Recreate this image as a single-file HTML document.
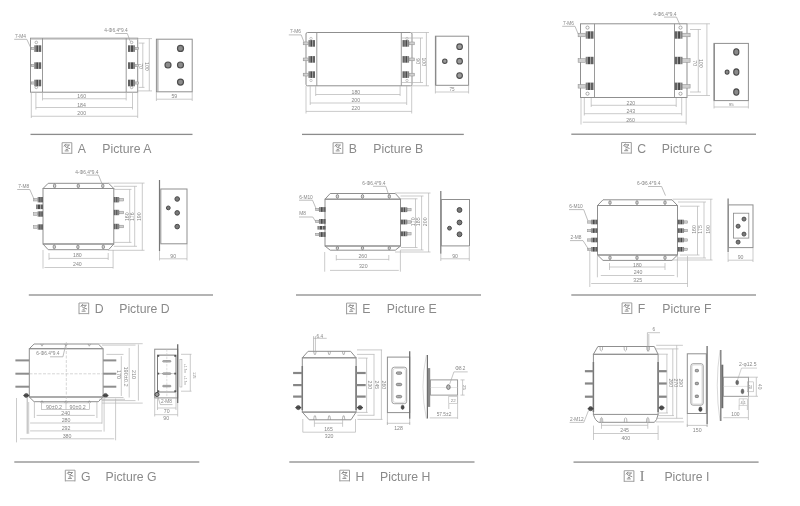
<!DOCTYPE html>
<html><head><meta charset="utf-8"><title>Filter dimension drawings</title>
<style>
html,body{margin:0;padding:0;background:#fff;}
body{width:800px;height:506px;overflow:hidden;}
svg{display:block;filter:blur(0.3px);}
text{font-family:"Liberation Sans",sans-serif;}
text.cap{font-size:13.2px;}
</style></head>
<body>
<svg width="800" height="506" viewBox="0 0 800 506">
<rect width="800" height="506" fill="#fff"/>
<rect x="30.5" y="38.2" width="107.2" height="54" stroke="#8f8f8f" stroke-width="1" fill="none"/>
<line x1="30.5" y1="39.2" x2="137.7" y2="39.2" stroke="#c4c4c4" stroke-width="1"/>
<line x1="42.5" y1="38.2" x2="42.5" y2="92.2" stroke="#8f8f8f" stroke-width="0.9"/>
<line x1="126.2" y1="38.2" x2="126.2" y2="92.2" stroke="#8f8f8f" stroke-width="0.9"/>
<rect x="38.68" y="45.3" width="2.52" height="6.6" fill="#626262"/>
<rect x="38.19" y="45.3" width="0.49" height="6.6" fill="#9a9a9a"/>
<rect x="36.16" y="45.3" width="2.03" height="6.6" fill="#4a4a4a"/>
<rect x="34.2" y="45.3" width="1.96" height="6.6" fill="#858585"/>
<rect x="31.2" y="47.5" width="3" height="2.2" stroke="#8a8a8a" stroke-width="0.5" fill="#cfcfcf"/>
<rect x="128" y="45.3" width="2.52" height="6.6" fill="#626262"/>
<rect x="130.52" y="45.3" width="0.49" height="6.6" fill="#9a9a9a"/>
<rect x="131.01" y="45.3" width="2.03" height="6.6" fill="#4a4a4a"/>
<rect x="133.04" y="45.3" width="1.96" height="6.6" fill="#858585"/>
<rect x="135" y="47.5" width="3.5" height="2.2" stroke="#8a8a8a" stroke-width="0.5" fill="#cfcfcf"/>
<rect x="38.68" y="62.3" width="2.52" height="6.6" fill="#626262"/>
<rect x="38.19" y="62.3" width="0.49" height="6.6" fill="#9a9a9a"/>
<rect x="36.16" y="62.3" width="2.03" height="6.6" fill="#4a4a4a"/>
<rect x="34.2" y="62.3" width="1.96" height="6.6" fill="#858585"/>
<rect x="31.2" y="64.5" width="3" height="2.2" stroke="#8a8a8a" stroke-width="0.5" fill="#cfcfcf"/>
<rect x="128" y="62.3" width="2.52" height="6.6" fill="#626262"/>
<rect x="130.52" y="62.3" width="0.49" height="6.6" fill="#9a9a9a"/>
<rect x="131.01" y="62.3" width="2.03" height="6.6" fill="#4a4a4a"/>
<rect x="133.04" y="62.3" width="1.96" height="6.6" fill="#858585"/>
<rect x="135" y="64.5" width="3.5" height="2.2" stroke="#8a8a8a" stroke-width="0.5" fill="#cfcfcf"/>
<rect x="38.68" y="79.7" width="2.52" height="6.6" fill="#626262"/>
<rect x="38.19" y="79.7" width="0.49" height="6.6" fill="#9a9a9a"/>
<rect x="36.16" y="79.7" width="2.03" height="6.6" fill="#4a4a4a"/>
<rect x="34.2" y="79.7" width="1.96" height="6.6" fill="#858585"/>
<rect x="31.2" y="81.9" width="3" height="2.2" stroke="#8a8a8a" stroke-width="0.5" fill="#cfcfcf"/>
<rect x="128" y="79.7" width="2.52" height="6.6" fill="#626262"/>
<rect x="130.52" y="79.7" width="0.49" height="6.6" fill="#9a9a9a"/>
<rect x="131.01" y="79.7" width="2.03" height="6.6" fill="#4a4a4a"/>
<rect x="133.04" y="79.7" width="1.96" height="6.6" fill="#858585"/>
<rect x="135" y="81.9" width="3.5" height="2.2" stroke="#8a8a8a" stroke-width="0.5" fill="#cfcfcf"/>
<circle cx="36.3" cy="42.4" r="1.3" fill="none" stroke="#888" stroke-width="0.6"/>
<circle cx="36.3" cy="87.4" r="1.3" fill="none" stroke="#888" stroke-width="0.6"/>
<circle cx="131.6" cy="42.4" r="1.3" fill="none" stroke="#888" stroke-width="0.6"/>
<circle cx="131.6" cy="87.4" r="1.3" fill="none" stroke="#888" stroke-width="0.6"/>
<text class="d" x="14.9" y="37.7" font-size="4.8" text-anchor="start" fill="#868686">7-M4</text>
<path d="M14.2 39.3 L26.8 39.3 L30.4 47" stroke="#a0a0a0" stroke-width="0.7" fill="none"/>
<text class="d" x="104.3" y="31.9" font-size="4.8" text-anchor="start" fill="#868686">4-Φ6.4*9.4</text>
<path d="M115.3 33.5 L127.3 33.5 L130.3 41.5" stroke="#a0a0a0" stroke-width="0.7" fill="none"/>
<line x1="137.7" y1="38.6" x2="152" y2="38.6" stroke="#b4b4b4" stroke-width="0.7"/>
<line x1="137.7" y1="90.9" x2="152" y2="90.9" stroke="#b4b4b4" stroke-width="0.7"/>
<line x1="149.3" y1="38.6" x2="149.3" y2="90.9" stroke="#b4b4b4" stroke-width="0.7"/>
<text class="d" x="145" y="66.4" font-size="5.2" text-anchor="middle" fill="#868686" transform="rotate(90 145 66.4)">100</text>
<line x1="138.7" y1="43.1" x2="144.5" y2="43.1" stroke="#b4b4b4" stroke-width="0.7"/>
<line x1="138.7" y1="87.4" x2="144.5" y2="87.4" stroke="#b4b4b4" stroke-width="0.7"/>
<line x1="142.8" y1="43.1" x2="142.8" y2="87.4" stroke="#b4b4b4" stroke-width="0.7"/>
<text class="d" x="139.1" y="66.1" font-size="5.2" text-anchor="middle" fill="#868686" transform="rotate(90 139.1 66.1)">70</text>
<rect x="156.4" y="39.2" width="35.8" height="52.6" stroke="#8f8f8f" stroke-width="1" fill="none"/>
<line x1="157.9" y1="39.2" x2="157.9" y2="91.8" stroke="#9a9a9a" stroke-width="1"/>
<circle cx="180.5" cy="48.4" r="3" fill="#8c8c8c" stroke="#4e4e4e" stroke-width="1.2"/>
<circle cx="168" cy="65" r="3" fill="#8c8c8c" stroke="#4e4e4e" stroke-width="1.2"/>
<circle cx="180.5" cy="65" r="3" fill="#8c8c8c" stroke="#4e4e4e" stroke-width="1.2"/>
<circle cx="180.5" cy="82.1" r="3" fill="#8c8c8c" stroke="#4e4e4e" stroke-width="1.2"/>
<line x1="156.4" y1="92" x2="156.4" y2="101" stroke="#b4b4b4" stroke-width="0.7"/>
<line x1="192.2" y1="92" x2="192.2" y2="101" stroke="#b4b4b4" stroke-width="0.7"/>
<line x1="156.4" y1="99.2" x2="192.2" y2="99.2" stroke="#b4b4b4" stroke-width="0.7"/>
<text class="d" x="174.3" y="98.3" font-size="5.2" text-anchor="middle" fill="#868686">59</text>
<line x1="42.5" y1="92.5" x2="42.5" y2="100.5" stroke="#b4b4b4" stroke-width="0.7"/>
<line x1="126.2" y1="92.5" x2="126.2" y2="100.5" stroke="#b4b4b4" stroke-width="0.7"/>
<line x1="42.5" y1="98.75" x2="126.2" y2="98.75" stroke="#b4b4b4" stroke-width="0.7"/>
<text class="d" x="81.7" y="97.85" font-size="5.2" text-anchor="middle" fill="#868686">160</text>
<line x1="35.9" y1="92.5" x2="35.9" y2="109.5" stroke="#b4b4b4" stroke-width="0.7"/>
<line x1="132.5" y1="92.5" x2="132.5" y2="109.5" stroke="#b4b4b4" stroke-width="0.7"/>
<line x1="35.9" y1="107.5" x2="132.5" y2="107.5" stroke="#b4b4b4" stroke-width="0.7"/>
<text class="d" x="81.5" y="106.6" font-size="5.2" text-anchor="middle" fill="#868686">184</text>
<line x1="31.3" y1="92.5" x2="31.3" y2="118" stroke="#b4b4b4" stroke-width="0.7"/>
<line x1="137.7" y1="92.5" x2="137.7" y2="118" stroke="#b4b4b4" stroke-width="0.7"/>
<line x1="31.3" y1="116.25" x2="137.7" y2="116.25" stroke="#b4b4b4" stroke-width="0.7"/>
<text class="d" x="81.7" y="115.35" font-size="5.2" text-anchor="middle" fill="#868686">200</text>
<rect x="306" y="32.5" width="106" height="53.3" stroke="#8f8f8f" stroke-width="1" fill="none" rx="1.5"/>
<line x1="316.8" y1="32.5" x2="316.8" y2="85.8" stroke="#8f8f8f" stroke-width="0.9"/>
<line x1="401.3" y1="32.5" x2="401.3" y2="85.8" stroke="#8f8f8f" stroke-width="0.9"/>
<rect x="312.62" y="40.1" width="2.38" height="6.6" fill="#626262"/>
<rect x="312.16" y="40.1" width="0.46" height="6.6" fill="#9a9a9a"/>
<rect x="310.25" y="40.1" width="1.91" height="6.6" fill="#4a4a4a"/>
<rect x="308.4" y="40.1" width="1.85" height="6.6" fill="#858585"/>
<rect x="303.2" y="42" width="5.2" height="2.8" stroke="#8a8a8a" stroke-width="0.5" fill="#cfcfcf"/>
<rect x="402.5" y="40.1" width="2.38" height="6.6" fill="#626262"/>
<rect x="404.88" y="40.1" width="0.46" height="6.6" fill="#9a9a9a"/>
<rect x="405.34" y="40.1" width="1.91" height="6.6" fill="#4a4a4a"/>
<rect x="407.25" y="40.1" width="1.85" height="6.6" fill="#858585"/>
<rect x="409.1" y="42" width="5.2" height="2.8" stroke="#8a8a8a" stroke-width="0.5" fill="#cfcfcf"/>
<rect x="312.62" y="56.1" width="2.38" height="6.6" fill="#626262"/>
<rect x="312.16" y="56.1" width="0.46" height="6.6" fill="#9a9a9a"/>
<rect x="310.25" y="56.1" width="1.91" height="6.6" fill="#4a4a4a"/>
<rect x="308.4" y="56.1" width="1.85" height="6.6" fill="#858585"/>
<rect x="303.2" y="58" width="5.2" height="2.8" stroke="#8a8a8a" stroke-width="0.5" fill="#cfcfcf"/>
<rect x="402.5" y="56.1" width="2.38" height="6.6" fill="#626262"/>
<rect x="404.88" y="56.1" width="0.46" height="6.6" fill="#9a9a9a"/>
<rect x="405.34" y="56.1" width="1.91" height="6.6" fill="#4a4a4a"/>
<rect x="407.25" y="56.1" width="1.85" height="6.6" fill="#858585"/>
<rect x="409.1" y="58" width="5.2" height="2.8" stroke="#8a8a8a" stroke-width="0.5" fill="#cfcfcf"/>
<rect x="312.62" y="71.3" width="2.38" height="6.6" fill="#626262"/>
<rect x="312.16" y="71.3" width="0.46" height="6.6" fill="#9a9a9a"/>
<rect x="310.25" y="71.3" width="1.91" height="6.6" fill="#4a4a4a"/>
<rect x="308.4" y="71.3" width="1.85" height="6.6" fill="#858585"/>
<rect x="303.2" y="73.2" width="5.2" height="2.8" stroke="#8a8a8a" stroke-width="0.5" fill="#cfcfcf"/>
<rect x="402.5" y="71.3" width="2.38" height="6.6" fill="#626262"/>
<rect x="404.88" y="71.3" width="0.46" height="6.6" fill="#9a9a9a"/>
<rect x="405.34" y="71.3" width="1.91" height="6.6" fill="#4a4a4a"/>
<rect x="407.25" y="71.3" width="1.85" height="6.6" fill="#858585"/>
<rect x="409.1" y="73.2" width="5.2" height="2.8" stroke="#8a8a8a" stroke-width="0.5" fill="#cfcfcf"/>
<circle cx="311" cy="38.5" r="1.2" fill="none" stroke="#999" stroke-width="0.5"/>
<circle cx="311" cy="80.5" r="1.2" fill="none" stroke="#999" stroke-width="0.5"/>
<circle cx="407" cy="38.5" r="1.2" fill="none" stroke="#999" stroke-width="0.5"/>
<circle cx="407" cy="80.5" r="1.2" fill="none" stroke="#999" stroke-width="0.5"/>
<text class="d" x="289.9" y="33.3" font-size="4.8" text-anchor="start" fill="#868686">7-M6</text>
<path d="M288.8 34.9 L301.2 34.9 L304 42" stroke="#a0a0a0" stroke-width="0.7" fill="none"/>
<line x1="412" y1="32.5" x2="429" y2="32.5" stroke="#b4b4b4" stroke-width="0.7"/>
<line x1="412" y1="85.8" x2="429" y2="85.8" stroke="#b4b4b4" stroke-width="0.7"/>
<line x1="426.4" y1="32.5" x2="426.4" y2="85.8" stroke="#b4b4b4" stroke-width="0.7"/>
<text class="d" x="422" y="61.8" font-size="5.2" text-anchor="middle" fill="#868686" transform="rotate(90 422 61.8)">100</text>
<line x1="402" y1="38" x2="423" y2="38" stroke="#b4b4b4" stroke-width="0.7"/>
<line x1="402" y1="82.5" x2="423" y2="82.5" stroke="#b4b4b4" stroke-width="0.7"/>
<line x1="420.5" y1="38" x2="420.5" y2="82.5" stroke="#b4b4b4" stroke-width="0.7"/>
<text class="d" x="416.1" y="61.2" font-size="5.2" text-anchor="middle" fill="#868686" transform="rotate(90 416.1 61.2)">90</text>
<rect x="435.4" y="36.2" width="33.2" height="49.1" stroke="#8f8f8f" stroke-width="1" fill="none"/>
<line x1="435.7" y1="36.2" x2="435.7" y2="85.3" stroke="#8a8a8a" stroke-width="1.3"/>
<circle cx="459.6" cy="46.7" r="2.8" fill="#9a9a9a" stroke="#4e4e4e" stroke-width="1.1"/>
<circle cx="444.8" cy="61.2" r="2.2" fill="#9a9a9a" stroke="#4e4e4e" stroke-width="1.1"/>
<circle cx="459.6" cy="61.2" r="2.8" fill="#9a9a9a" stroke="#4e4e4e" stroke-width="1.1"/>
<circle cx="459.6" cy="75.6" r="2.8" fill="#9a9a9a" stroke="#4e4e4e" stroke-width="1.1"/>
<line x1="435.4" y1="85.5" x2="435.4" y2="93.5" stroke="#b4b4b4" stroke-width="0.7"/>
<line x1="468.6" y1="85.5" x2="468.6" y2="93.5" stroke="#b4b4b4" stroke-width="0.7"/>
<line x1="435.4" y1="92" x2="468.6" y2="92" stroke="#b4b4b4" stroke-width="0.7"/>
<text class="d" x="452" y="91.1" font-size="4.6" text-anchor="middle" fill="#868686">75</text>
<line x1="315.7" y1="86" x2="315.7" y2="96" stroke="#b4b4b4" stroke-width="0.7"/>
<line x1="400.1" y1="86" x2="400.1" y2="96" stroke="#b4b4b4" stroke-width="0.7"/>
<line x1="315.7" y1="94.5" x2="400.1" y2="94.5" stroke="#b4b4b4" stroke-width="0.7"/>
<text class="d" x="355.9" y="93.8" font-size="5.2" text-anchor="middle" fill="#868686">180</text>
<line x1="310.2" y1="86" x2="310.2" y2="105" stroke="#b4b4b4" stroke-width="0.7"/>
<line x1="406.7" y1="86" x2="406.7" y2="105" stroke="#b4b4b4" stroke-width="0.7"/>
<line x1="310.2" y1="103" x2="406.7" y2="103" stroke="#b4b4b4" stroke-width="0.7"/>
<text class="d" x="355.8" y="101.9" font-size="5.2" text-anchor="middle" fill="#868686">200</text>
<line x1="306" y1="86" x2="306" y2="113.5" stroke="#b4b4b4" stroke-width="0.7"/>
<line x1="411.7" y1="86" x2="411.7" y2="113.5" stroke="#b4b4b4" stroke-width="0.7"/>
<line x1="306" y1="111.4" x2="411.7" y2="111.4" stroke="#b4b4b4" stroke-width="0.7"/>
<text class="d" x="355.8" y="110" font-size="5.2" text-anchor="middle" fill="#868686">220</text>
<rect x="580.5" y="23.8" width="106.5" height="73.7" stroke="#8f8f8f" stroke-width="1" fill="none"/>
<line x1="594.5" y1="23.8" x2="594.5" y2="97.5" stroke="#8f8f8f" stroke-width="0.9"/>
<line x1="674.5" y1="23.8" x2="674.5" y2="97.5" stroke="#8f8f8f" stroke-width="0.9"/>
<circle cx="587.5" cy="27.6" r="1.6" fill="none" stroke="#777" stroke-width="0.6"/>
<circle cx="587.5" cy="93.7" r="1.6" fill="none" stroke="#777" stroke-width="0.6"/>
<circle cx="680.5" cy="27.6" r="1.6" fill="none" stroke="#777" stroke-width="0.6"/>
<circle cx="680.5" cy="93.7" r="1.6" fill="none" stroke="#777" stroke-width="0.6"/>
<rect x="590.69" y="31.3" width="2.81" height="7.4" fill="#626262"/>
<rect x="590.15" y="31.3" width="0.55" height="7.4" fill="#9a9a9a"/>
<rect x="587.88" y="31.3" width="2.26" height="7.4" fill="#4a4a4a"/>
<rect x="585.7" y="31.3" width="2.18" height="7.4" fill="#858585"/>
<rect x="578.1" y="33.2" width="7.6" height="3.6" stroke="#8a8a8a" stroke-width="0.5" fill="#cfcfcf"/>
<rect x="674.7" y="31.3" width="2.81" height="7.4" fill="#626262"/>
<rect x="677.51" y="31.3" width="0.55" height="7.4" fill="#9a9a9a"/>
<rect x="678.05" y="31.3" width="2.26" height="7.4" fill="#4a4a4a"/>
<rect x="680.32" y="31.3" width="2.18" height="7.4" fill="#858585"/>
<rect x="682.5" y="33.2" width="7.6" height="3.6" stroke="#8a8a8a" stroke-width="0.5" fill="#cfcfcf"/>
<rect x="590.69" y="56.8" width="2.81" height="7.4" fill="#626262"/>
<rect x="590.15" y="56.8" width="0.55" height="7.4" fill="#9a9a9a"/>
<rect x="587.88" y="56.8" width="2.26" height="7.4" fill="#4a4a4a"/>
<rect x="585.7" y="56.8" width="2.18" height="7.4" fill="#858585"/>
<rect x="578.1" y="58.7" width="7.6" height="3.6" stroke="#8a8a8a" stroke-width="0.5" fill="#cfcfcf"/>
<rect x="674.7" y="56.8" width="2.81" height="7.4" fill="#626262"/>
<rect x="677.51" y="56.8" width="0.55" height="7.4" fill="#9a9a9a"/>
<rect x="678.05" y="56.8" width="2.26" height="7.4" fill="#4a4a4a"/>
<rect x="680.32" y="56.8" width="2.18" height="7.4" fill="#858585"/>
<rect x="682.5" y="58.7" width="7.6" height="3.6" stroke="#8a8a8a" stroke-width="0.5" fill="#cfcfcf"/>
<rect x="590.69" y="82.6" width="2.81" height="7.4" fill="#626262"/>
<rect x="590.15" y="82.6" width="0.55" height="7.4" fill="#9a9a9a"/>
<rect x="587.88" y="82.6" width="2.26" height="7.4" fill="#4a4a4a"/>
<rect x="585.7" y="82.6" width="2.18" height="7.4" fill="#858585"/>
<rect x="578.1" y="84.5" width="7.6" height="3.6" stroke="#8a8a8a" stroke-width="0.5" fill="#cfcfcf"/>
<rect x="674.7" y="82.6" width="2.81" height="7.4" fill="#626262"/>
<rect x="677.51" y="82.6" width="0.55" height="7.4" fill="#9a9a9a"/>
<rect x="678.05" y="82.6" width="2.26" height="7.4" fill="#4a4a4a"/>
<rect x="680.32" y="82.6" width="2.18" height="7.4" fill="#858585"/>
<rect x="682.5" y="84.5" width="7.6" height="3.6" stroke="#8a8a8a" stroke-width="0.5" fill="#cfcfcf"/>
<text class="d" x="563.1" y="24.7" font-size="4.8" text-anchor="start" fill="#868686">7-M6</text>
<path d="M562.2 26.3 L575 26.3 L578.2 34" stroke="#a0a0a0" stroke-width="0.7" fill="none"/>
<text class="d" x="653.2" y="15.5" font-size="4.8" text-anchor="start" fill="#868686">4-Φ6.4*9.4</text>
<path d="M664 17.1 L676.5 17.1 L680 25" stroke="#a0a0a0" stroke-width="0.7" fill="none"/>
<line x1="687" y1="23.8" x2="710" y2="23.8" stroke="#b4b4b4" stroke-width="0.7"/>
<line x1="687" y1="95.5" x2="710" y2="95.5" stroke="#b4b4b4" stroke-width="0.7"/>
<line x1="706.9" y1="23.8" x2="706.9" y2="95.5" stroke="#b4b4b4" stroke-width="0.7"/>
<text class="d" x="699.4" y="63.3" font-size="5.2" text-anchor="middle" fill="#868686" transform="rotate(90 699.4 63.3)">100</text>
<line x1="690" y1="29.5" x2="701" y2="29.5" stroke="#b4b4b4" stroke-width="0.7"/>
<line x1="690" y1="92" x2="701" y2="92" stroke="#b4b4b4" stroke-width="0.7"/>
<line x1="698.3" y1="29.5" x2="698.3" y2="92" stroke="#b4b4b4" stroke-width="0.7"/>
<text class="d" x="692.8" y="63.2" font-size="5.2" text-anchor="middle" fill="#868686" transform="rotate(90 692.8 63.2)">70</text>
<rect x="714" y="43.4" width="34.4" height="57.2" stroke="#8f8f8f" stroke-width="1" fill="none"/>
<line x1="714.3" y1="43.4" x2="714.3" y2="100.6" stroke="#8a8a8a" stroke-width="1.2"/>
<ellipse cx="736.3" cy="51.9" rx="2.6" ry="3.2" fill="#8a8a8a" stroke="#4a4a4a" stroke-width="1.1"/>
<ellipse cx="727.1" cy="72.1" rx="1.9" ry="2.1" fill="#8a8a8a" stroke="#4a4a4a" stroke-width="1.1"/>
<ellipse cx="736.3" cy="72.1" rx="2.6" ry="3.2" fill="#8a8a8a" stroke="#4a4a4a" stroke-width="1.1"/>
<ellipse cx="736.3" cy="92.1" rx="2.6" ry="3.2" fill="#8a8a8a" stroke="#4a4a4a" stroke-width="1.1"/>
<line x1="714" y1="101" x2="714" y2="108.5" stroke="#b4b4b4" stroke-width="0.7"/>
<line x1="748.4" y1="101" x2="748.4" y2="108.5" stroke="#b4b4b4" stroke-width="0.7"/>
<line x1="714" y1="107" x2="748.4" y2="107" stroke="#b4b4b4" stroke-width="0.7"/>
<text class="d" x="731.2" y="105.6" font-size="4.4" text-anchor="middle" fill="#868686">95</text>
<line x1="591.2" y1="98" x2="591.2" y2="107" stroke="#b4b4b4" stroke-width="0.7"/>
<line x1="676.2" y1="98" x2="676.2" y2="107" stroke="#b4b4b4" stroke-width="0.7"/>
<line x1="591.2" y1="105.3" x2="676.2" y2="105.3" stroke="#b4b4b4" stroke-width="0.7"/>
<text class="d" x="630.9" y="104.8" font-size="5.2" text-anchor="middle" fill="#868686">220</text>
<line x1="584.3" y1="98" x2="584.3" y2="115.5" stroke="#b4b4b4" stroke-width="0.7"/>
<line x1="681.7" y1="98" x2="681.7" y2="115.5" stroke="#b4b4b4" stroke-width="0.7"/>
<line x1="584.3" y1="113.7" x2="681.7" y2="113.7" stroke="#b4b4b4" stroke-width="0.7"/>
<text class="d" x="630.8" y="113.2" font-size="5.2" text-anchor="middle" fill="#868686">243</text>
<line x1="581" y1="98" x2="581" y2="124.5" stroke="#b4b4b4" stroke-width="0.7"/>
<line x1="686.2" y1="98" x2="686.2" y2="124.5" stroke="#b4b4b4" stroke-width="0.7"/>
<line x1="582.8" y1="122.2" x2="686.2" y2="122.2" stroke="#b4b4b4" stroke-width="0.7"/>
<text class="d" x="630.5" y="121.7" font-size="5.2" text-anchor="middle" fill="#868686">260</text>
<path d="M48.2 183.3 L108.6 183.3 L113.8 188.5 L43 188.5 Z" stroke="#8f8f8f" stroke-width="1" fill="none"/>
<rect x="43" y="188.5" width="70.8" height="55.5" stroke="#8f8f8f" stroke-width="1" fill="none"/>
<path d="M43 244 L113.8 244 L108.6 249.7 L48.2 249.7 Z" stroke="#8f8f8f" stroke-width="1" fill="none"/>
<ellipse cx="54.6" cy="185.9" rx="1.2" ry="1.9" fill="#d4d4d4" stroke="#6e6e6e" stroke-width="0.7"/>
<ellipse cx="78.3" cy="185.9" rx="1.2" ry="1.9" fill="#d4d4d4" stroke="#6e6e6e" stroke-width="0.7"/>
<ellipse cx="102.8" cy="185.9" rx="1.2" ry="1.9" fill="#d4d4d4" stroke="#6e6e6e" stroke-width="0.7"/>
<ellipse cx="54.3" cy="246.9" rx="1.2" ry="1.9" fill="#d4d4d4" stroke="#6e6e6e" stroke-width="0.7"/>
<ellipse cx="77.9" cy="246.9" rx="1.2" ry="1.9" fill="#d4d4d4" stroke="#6e6e6e" stroke-width="0.7"/>
<ellipse cx="103.3" cy="246.9" rx="1.2" ry="1.9" fill="#d4d4d4" stroke="#6e6e6e" stroke-width="0.7"/>
<rect x="41.06" y="197" width="1.94" height="5.4" fill="#626262"/>
<rect x="40.68" y="197" width="0.38" height="5.4" fill="#9a9a9a"/>
<rect x="39.11" y="197" width="1.57" height="5.4" fill="#4a4a4a"/>
<rect x="37.6" y="197" width="1.51" height="5.4" fill="#858585"/>
<rect x="33.4" y="198.4" width="4.2" height="2.6" stroke="#8a8a8a" stroke-width="0.5" fill="#cfcfcf"/>
<rect x="41.06" y="211.3" width="1.94" height="5.4" fill="#626262"/>
<rect x="40.68" y="211.3" width="0.38" height="5.4" fill="#9a9a9a"/>
<rect x="39.11" y="211.3" width="1.57" height="5.4" fill="#4a4a4a"/>
<rect x="37.6" y="211.3" width="1.51" height="5.4" fill="#858585"/>
<rect x="33.4" y="212.7" width="4.2" height="2.6" stroke="#8a8a8a" stroke-width="0.5" fill="#cfcfcf"/>
<rect x="41.06" y="224.3" width="1.94" height="5.4" fill="#626262"/>
<rect x="40.68" y="224.3" width="0.38" height="5.4" fill="#9a9a9a"/>
<rect x="39.11" y="224.3" width="1.57" height="5.4" fill="#4a4a4a"/>
<rect x="37.6" y="224.3" width="1.51" height="5.4" fill="#858585"/>
<rect x="33.4" y="225.7" width="4.2" height="2.6" stroke="#8a8a8a" stroke-width="0.5" fill="#cfcfcf"/>
<rect x="40.48" y="204.5" width="2.52" height="4.6" fill="#626262"/>
<rect x="39.99" y="204.5" width="0.49" height="4.6" fill="#9a9a9a"/>
<rect x="37.96" y="204.5" width="2.03" height="4.6" fill="#4a4a4a"/>
<rect x="36" y="204.5" width="1.96" height="4.6" fill="#858585"/>
<rect x="113.8" y="197" width="1.94" height="5.4" fill="#626262"/>
<rect x="115.74" y="197" width="0.38" height="5.4" fill="#9a9a9a"/>
<rect x="116.12" y="197" width="1.57" height="5.4" fill="#4a4a4a"/>
<rect x="117.69" y="197" width="1.51" height="5.4" fill="#858585"/>
<rect x="119.2" y="198.4" width="4.5" height="2.6" stroke="#8a8a8a" stroke-width="0.5" fill="#cfcfcf"/>
<rect x="113.8" y="209.8" width="1.94" height="5.4" fill="#626262"/>
<rect x="115.74" y="209.8" width="0.38" height="5.4" fill="#9a9a9a"/>
<rect x="116.12" y="209.8" width="1.57" height="5.4" fill="#4a4a4a"/>
<rect x="117.69" y="209.8" width="1.51" height="5.4" fill="#858585"/>
<rect x="119.2" y="211.2" width="4.5" height="2.6" stroke="#8a8a8a" stroke-width="0.5" fill="#cfcfcf"/>
<rect x="113.8" y="223.8" width="1.94" height="5.4" fill="#626262"/>
<rect x="115.74" y="223.8" width="0.38" height="5.4" fill="#9a9a9a"/>
<rect x="116.12" y="223.8" width="1.57" height="5.4" fill="#4a4a4a"/>
<rect x="117.69" y="223.8" width="1.51" height="5.4" fill="#858585"/>
<rect x="119.2" y="225.2" width="4.5" height="2.6" stroke="#8a8a8a" stroke-width="0.5" fill="#cfcfcf"/>
<text class="d" x="18.2" y="187.9" font-size="4.8" text-anchor="start" fill="#868686">7-M8</text>
<path d="M17.2 189.5 L29.8 189.5 L34.3 199.8" stroke="#a0a0a0" stroke-width="0.7" fill="none"/>
<text class="d" x="75.2" y="173.5" font-size="4.8" text-anchor="start" fill="#868686">4-Φ6.4*9.4</text>
<path d="M86.2 175.1 L98.5 175.1 L101.8 183.3" stroke="#a0a0a0" stroke-width="0.7" fill="none"/>
<line x1="108" y1="183.1" x2="144.5" y2="183.1" stroke="#b4b4b4" stroke-width="0.7"/>
<line x1="108" y1="250.3" x2="144.5" y2="250.3" stroke="#b4b4b4" stroke-width="0.7"/>
<line x1="142.3" y1="183.1" x2="142.3" y2="250.3" stroke="#b4b4b4" stroke-width="0.7"/>
<text class="d" x="140.6" y="216.7" font-size="5.2" text-anchor="middle" fill="#868686" transform="rotate(-90 140.6 216.7)">190</text>
<line x1="113.8" y1="186.3" x2="137" y2="186.3" stroke="#b4b4b4" stroke-width="0.7"/>
<line x1="113.8" y1="246.3" x2="137" y2="246.3" stroke="#b4b4b4" stroke-width="0.7"/>
<line x1="134.7" y1="186.3" x2="134.7" y2="246.3" stroke="#b4b4b4" stroke-width="0.7"/>
<text class="d" x="134.3" y="216.7" font-size="5.2" text-anchor="middle" fill="#868686" transform="rotate(-90 134.3 216.7)">176</text>
<line x1="114" y1="189.4" x2="131.5" y2="189.4" stroke="#b4b4b4" stroke-width="0.7"/>
<line x1="114" y1="242.4" x2="131.5" y2="242.4" stroke="#b4b4b4" stroke-width="0.7"/>
<line x1="129.7" y1="189.4" x2="129.7" y2="242.4" stroke="#b4b4b4" stroke-width="0.7"/>
<text class="d" x="129.1" y="216.7" font-size="5.2" text-anchor="middle" fill="#868686" transform="rotate(-90 129.1 216.7)">160</text>
<line x1="159.5" y1="180" x2="159.5" y2="251" stroke="#777" stroke-width="1.2"/>
<rect x="160.8" y="189" width="26.2" height="54.8" stroke="#8f8f8f" stroke-width="1" fill="none"/>
<circle cx="177.2" cy="199" r="2.3" fill="#7a7a7a" stroke="#484848" stroke-width="1.0"/>
<circle cx="168.3" cy="207.9" r="1.9" fill="#7a7a7a" stroke="#484848" stroke-width="1.0"/>
<circle cx="177.2" cy="212.9" r="2.3" fill="#7a7a7a" stroke="#484848" stroke-width="1.0"/>
<circle cx="177.2" cy="226.6" r="2.3" fill="#7a7a7a" stroke="#484848" stroke-width="1.0"/>
<line x1="159.5" y1="251" x2="159.5" y2="260.5" stroke="#b4b4b4" stroke-width="0.7"/>
<line x1="187" y1="244" x2="187" y2="260.5" stroke="#b4b4b4" stroke-width="0.7"/>
<line x1="159.5" y1="258.8" x2="187" y2="258.8" stroke="#b4b4b4" stroke-width="0.7"/>
<text class="d" x="173.25" y="257.9" font-size="5.2" text-anchor="middle" fill="#868686">90</text>
<line x1="49" y1="253" x2="49" y2="260" stroke="#b4b4b4" stroke-width="0.7"/>
<line x1="108.2" y1="253" x2="108.2" y2="260" stroke="#b4b4b4" stroke-width="0.7"/>
<line x1="49" y1="258.4" x2="108.2" y2="258.4" stroke="#b4b4b4" stroke-width="0.7"/>
<text class="d" x="77.4" y="257.4" font-size="5.2" text-anchor="middle" fill="#868686">180</text>
<line x1="43" y1="250" x2="43" y2="268.6" stroke="#b4b4b4" stroke-width="0.7"/>
<line x1="113.1" y1="250" x2="113.1" y2="268.6" stroke="#b4b4b4" stroke-width="0.7"/>
<line x1="44.5" y1="267.5" x2="113.1" y2="267.5" stroke="#b4b4b4" stroke-width="0.7"/>
<text class="d" x="77.4" y="265.8" font-size="5.2" text-anchor="middle" fill="#868686">240</text>
<path d="M330.2 193.5 L395.3 193.5 L400.5 199.2 L325 199.2 Z" stroke="#8f8f8f" stroke-width="1" fill="none"/>
<rect x="325" y="199.2" width="75.5" height="46.8" stroke="#8f8f8f" stroke-width="1" fill="none"/>
<path d="M325 246 L400.5 246 L395.3 250.2 L330.2 250.2 Z" stroke="#8f8f8f" stroke-width="1" fill="none"/>
<ellipse cx="337.4" cy="196.4" rx="1.2" ry="1.9" fill="#d4d4d4" stroke="#6e6e6e" stroke-width="0.7"/>
<ellipse cx="337.4" cy="248.1" rx="1.2" ry="1.6" fill="#d4d4d4" stroke="#6e6e6e" stroke-width="0.7"/>
<ellipse cx="362.5" cy="196.4" rx="1.2" ry="1.9" fill="#d4d4d4" stroke="#6e6e6e" stroke-width="0.7"/>
<ellipse cx="362.5" cy="248.1" rx="1.2" ry="1.6" fill="#d4d4d4" stroke="#6e6e6e" stroke-width="0.7"/>
<ellipse cx="389.3" cy="196.4" rx="1.2" ry="1.9" fill="#d4d4d4" stroke="#6e6e6e" stroke-width="0.7"/>
<ellipse cx="389.3" cy="248.1" rx="1.2" ry="1.6" fill="#d4d4d4" stroke="#6e6e6e" stroke-width="0.7"/>
<rect x="323.22" y="207.1" width="2.38" height="4.8" fill="#626262"/>
<rect x="322.76" y="207.1" width="0.46" height="4.8" fill="#9a9a9a"/>
<rect x="320.85" y="207.1" width="1.91" height="4.8" fill="#4a4a4a"/>
<rect x="319" y="207.1" width="1.85" height="4.8" fill="#858585"/>
<rect x="315.6" y="208.3" width="3.4" height="2.4" stroke="#8a8a8a" stroke-width="0.5" fill="#cfcfcf"/>
<rect x="323.22" y="219" width="2.38" height="4.8" fill="#626262"/>
<rect x="322.76" y="219" width="0.46" height="4.8" fill="#9a9a9a"/>
<rect x="320.85" y="219" width="1.91" height="4.8" fill="#4a4a4a"/>
<rect x="319" y="219" width="1.85" height="4.8" fill="#858585"/>
<rect x="315.6" y="220.2" width="3.4" height="2.4" stroke="#8a8a8a" stroke-width="0.5" fill="#cfcfcf"/>
<rect x="323.22" y="232.1" width="2.38" height="4.8" fill="#626262"/>
<rect x="322.76" y="232.1" width="0.46" height="4.8" fill="#9a9a9a"/>
<rect x="320.85" y="232.1" width="1.91" height="4.8" fill="#4a4a4a"/>
<rect x="319" y="232.1" width="1.85" height="4.8" fill="#858585"/>
<rect x="315.6" y="233.3" width="3.4" height="2.4" stroke="#8a8a8a" stroke-width="0.5" fill="#cfcfcf"/>
<rect x="322.65" y="226" width="2.95" height="3.6" fill="#626262"/>
<rect x="322.07" y="226" width="0.57" height="3.6" fill="#9a9a9a"/>
<rect x="319.7" y="226" width="2.38" height="3.6" fill="#4a4a4a"/>
<rect x="317.4" y="226" width="2.3" height="3.6" fill="#858585"/>
<rect x="400.7" y="207.3" width="2.38" height="4.8" fill="#626262"/>
<rect x="403.08" y="207.3" width="0.46" height="4.8" fill="#9a9a9a"/>
<rect x="403.54" y="207.3" width="1.91" height="4.8" fill="#4a4a4a"/>
<rect x="405.45" y="207.3" width="1.85" height="4.8" fill="#858585"/>
<rect x="407.3" y="208.5" width="3.8" height="2.4" stroke="#8a8a8a" stroke-width="0.5" fill="#cfcfcf"/>
<rect x="400.7" y="219.6" width="2.38" height="4.8" fill="#626262"/>
<rect x="403.08" y="219.6" width="0.46" height="4.8" fill="#9a9a9a"/>
<rect x="403.54" y="219.6" width="1.91" height="4.8" fill="#4a4a4a"/>
<rect x="405.45" y="219.6" width="1.85" height="4.8" fill="#858585"/>
<rect x="407.3" y="220.8" width="3.8" height="2.4" stroke="#8a8a8a" stroke-width="0.5" fill="#cfcfcf"/>
<rect x="400.7" y="231.4" width="2.38" height="4.8" fill="#626262"/>
<rect x="403.08" y="231.4" width="0.46" height="4.8" fill="#9a9a9a"/>
<rect x="403.54" y="231.4" width="1.91" height="4.8" fill="#4a4a4a"/>
<rect x="405.45" y="231.4" width="1.85" height="4.8" fill="#858585"/>
<rect x="407.3" y="232.6" width="3.8" height="2.4" stroke="#8a8a8a" stroke-width="0.5" fill="#cfcfcf"/>
<text class="d" x="362.2" y="184.7" font-size="4.8" text-anchor="start" fill="#868686">6-Φ6.4*9.4</text>
<path d="M373 186.3 L385.8 186.3 L389 195.8" stroke="#a0a0a0" stroke-width="0.7" fill="none"/>
<text class="d" x="299.2" y="198.6" font-size="4.8" text-anchor="start" fill="#868686">6-M10</text>
<path d="M299 200.2 L312.5 200.2 L316 208.4" stroke="#a0a0a0" stroke-width="0.7" fill="none"/>
<text class="d" x="299.2" y="215.4" font-size="4.8" text-anchor="start" fill="#868686">M8</text>
<path d="M299 217 L312.8 217 L315.5 221.4" stroke="#a0a0a0" stroke-width="0.7" fill="none"/>
<line x1="395" y1="193" x2="430.5" y2="193" stroke="#b4b4b4" stroke-width="0.7"/>
<line x1="395" y1="252" x2="430.5" y2="252" stroke="#b4b4b4" stroke-width="0.7"/>
<line x1="428.6" y1="193" x2="428.6" y2="252" stroke="#b4b4b4" stroke-width="0.7"/>
<text class="d" x="426.7" y="221.8" font-size="5.2" text-anchor="middle" fill="#868686" transform="rotate(-90 426.7 221.8)">200</text>
<line x1="400.5" y1="196" x2="423.5" y2="196" stroke="#b4b4b4" stroke-width="0.7"/>
<line x1="400.5" y1="250" x2="423.5" y2="250" stroke="#b4b4b4" stroke-width="0.7"/>
<line x1="421.6" y1="196" x2="421.6" y2="250" stroke="#b4b4b4" stroke-width="0.7"/>
<text class="d" x="420.3" y="221.8" font-size="5.2" text-anchor="middle" fill="#868686" transform="rotate(-90 420.3 221.8)">185</text>
<line x1="401" y1="198.8" x2="417.5" y2="198.8" stroke="#b4b4b4" stroke-width="0.7"/>
<line x1="401" y1="247.5" x2="417.5" y2="247.5" stroke="#b4b4b4" stroke-width="0.7"/>
<line x1="415.5" y1="198.8" x2="415.5" y2="247.5" stroke="#b4b4b4" stroke-width="0.7"/>
<text class="d" x="415.4" y="221.8" font-size="5.2" text-anchor="middle" fill="#868686" transform="rotate(-90 415.4 221.8)">170</text>
<line x1="440.8" y1="191" x2="440.8" y2="253.8" stroke="#777" stroke-width="1.2"/>
<rect x="441.3" y="199.5" width="28.2" height="46.4" stroke="#8f8f8f" stroke-width="1" fill="none"/>
<circle cx="459.5" cy="210" r="2.4" fill="#7a7a7a" stroke="#484848" stroke-width="1.0"/>
<circle cx="449.5" cy="228.2" r="1.9" fill="#7a7a7a" stroke="#484848" stroke-width="1.0"/>
<circle cx="459.5" cy="222.5" r="2.4" fill="#7a7a7a" stroke="#484848" stroke-width="1.0"/>
<circle cx="459.5" cy="234.3" r="2.4" fill="#7a7a7a" stroke="#484848" stroke-width="1.0"/>
<line x1="440.8" y1="254" x2="440.8" y2="261" stroke="#b4b4b4" stroke-width="0.7"/>
<line x1="469.3" y1="247" x2="469.3" y2="261" stroke="#b4b4b4" stroke-width="0.7"/>
<line x1="440.8" y1="258.8" x2="469.3" y2="258.8" stroke="#b4b4b4" stroke-width="0.7"/>
<text class="d" x="455.05" y="257.9" font-size="5.2" text-anchor="middle" fill="#868686">90</text>
<line x1="336.3" y1="255" x2="336.3" y2="260.5" stroke="#b4b4b4" stroke-width="0.7"/>
<line x1="388.8" y1="255" x2="388.8" y2="260.5" stroke="#b4b4b4" stroke-width="0.7"/>
<line x1="336.3" y1="259.4" x2="388.8" y2="259.4" stroke="#b4b4b4" stroke-width="0.7"/>
<text class="d" x="362.8" y="257.7" font-size="5.2" text-anchor="middle" fill="#868686">260</text>
<line x1="324.7" y1="252" x2="324.7" y2="271.7" stroke="#b4b4b4" stroke-width="0.7"/>
<line x1="400.4" y1="250" x2="400.4" y2="271.7" stroke="#b4b4b4" stroke-width="0.7"/>
<line x1="330" y1="270.4" x2="398.8" y2="270.4" stroke="#b4b4b4" stroke-width="0.7"/>
<text class="d" x="363.3" y="268.1" font-size="5.2" text-anchor="middle" fill="#868686">320</text>
<path d="M603 199.8 L672 199.8 L677.5 205.5 L597.5 205.5 Z" stroke="#8f8f8f" stroke-width="1" fill="none"/>
<rect x="597.5" y="205.5" width="80" height="49.5" stroke="#8f8f8f" stroke-width="1" fill="none"/>
<path d="M597.5 255 L677.5 255 L672 260.4 L603 260.4 Z" stroke="#8f8f8f" stroke-width="1" fill="none"/>
<ellipse cx="610" cy="202.6" rx="1.2" ry="1.9" fill="#d4d4d4" stroke="#6e6e6e" stroke-width="0.7"/>
<ellipse cx="610" cy="257.7" rx="1.2" ry="1.9" fill="#d4d4d4" stroke="#6e6e6e" stroke-width="0.7"/>
<ellipse cx="637" cy="202.6" rx="1.2" ry="1.9" fill="#d4d4d4" stroke="#6e6e6e" stroke-width="0.7"/>
<ellipse cx="637" cy="257.7" rx="1.2" ry="1.9" fill="#d4d4d4" stroke="#6e6e6e" stroke-width="0.7"/>
<ellipse cx="665" cy="202.6" rx="1.2" ry="1.9" fill="#d4d4d4" stroke="#6e6e6e" stroke-width="0.7"/>
<ellipse cx="665" cy="257.7" rx="1.2" ry="1.9" fill="#d4d4d4" stroke="#6e6e6e" stroke-width="0.7"/>
<rect x="595.2" y="219.7" width="2.3" height="4.6" fill="#626262"/>
<rect x="594.75" y="219.7" width="0.45" height="4.6" fill="#9a9a9a"/>
<rect x="592.89" y="219.7" width="1.86" height="4.6" fill="#4a4a4a"/>
<rect x="591.1" y="219.7" width="1.79" height="4.6" fill="#858585"/>
<rect x="587.7" y="220.85" width="3.4" height="2.3" stroke="#8a8a8a" stroke-width="0.5" fill="#cfcfcf"/>
<rect x="677.6" y="219.7" width="2.3" height="4.6" fill="#626262"/>
<rect x="679.9" y="219.7" width="0.45" height="4.6" fill="#9a9a9a"/>
<rect x="680.35" y="219.7" width="1.86" height="4.6" fill="#4a4a4a"/>
<rect x="682.21" y="219.7" width="1.79" height="4.6" fill="#858585"/>
<rect x="684" y="220.85" width="3.4" height="2.3" stroke="#8a8a8a" stroke-width="0.5" fill="#cfcfcf"/>
<rect x="595.2" y="228.3" width="2.3" height="4.6" fill="#626262"/>
<rect x="594.75" y="228.3" width="0.45" height="4.6" fill="#9a9a9a"/>
<rect x="592.89" y="228.3" width="1.86" height="4.6" fill="#4a4a4a"/>
<rect x="591.1" y="228.3" width="1.79" height="4.6" fill="#858585"/>
<rect x="587.7" y="229.45" width="3.4" height="2.3" stroke="#8a8a8a" stroke-width="0.5" fill="#cfcfcf"/>
<rect x="677.6" y="228.3" width="2.3" height="4.6" fill="#626262"/>
<rect x="679.9" y="228.3" width="0.45" height="4.6" fill="#9a9a9a"/>
<rect x="680.35" y="228.3" width="1.86" height="4.6" fill="#4a4a4a"/>
<rect x="682.21" y="228.3" width="1.79" height="4.6" fill="#858585"/>
<rect x="684" y="229.45" width="3.4" height="2.3" stroke="#8a8a8a" stroke-width="0.5" fill="#cfcfcf"/>
<rect x="595.2" y="237.7" width="2.3" height="4.6" fill="#626262"/>
<rect x="594.75" y="237.7" width="0.45" height="4.6" fill="#9a9a9a"/>
<rect x="592.89" y="237.7" width="1.86" height="4.6" fill="#4a4a4a"/>
<rect x="591.1" y="237.7" width="1.79" height="4.6" fill="#858585"/>
<rect x="587.7" y="238.85" width="3.4" height="2.3" stroke="#8a8a8a" stroke-width="0.5" fill="#cfcfcf"/>
<rect x="677.6" y="237.7" width="2.3" height="4.6" fill="#626262"/>
<rect x="679.9" y="237.7" width="0.45" height="4.6" fill="#9a9a9a"/>
<rect x="680.35" y="237.7" width="1.86" height="4.6" fill="#4a4a4a"/>
<rect x="682.21" y="237.7" width="1.79" height="4.6" fill="#858585"/>
<rect x="684" y="238.85" width="3.4" height="2.3" stroke="#8a8a8a" stroke-width="0.5" fill="#cfcfcf"/>
<rect x="595.2" y="247" width="2.3" height="4.6" fill="#626262"/>
<rect x="594.75" y="247" width="0.45" height="4.6" fill="#9a9a9a"/>
<rect x="592.89" y="247" width="1.86" height="4.6" fill="#4a4a4a"/>
<rect x="591.1" y="247" width="1.79" height="4.6" fill="#858585"/>
<rect x="587.7" y="248.15" width="3.4" height="2.3" stroke="#8a8a8a" stroke-width="0.5" fill="#cfcfcf"/>
<rect x="677.6" y="247" width="2.3" height="4.6" fill="#626262"/>
<rect x="679.9" y="247" width="0.45" height="4.6" fill="#9a9a9a"/>
<rect x="680.35" y="247" width="1.86" height="4.6" fill="#4a4a4a"/>
<rect x="682.21" y="247" width="1.79" height="4.6" fill="#858585"/>
<rect x="684" y="248.15" width="3.4" height="2.3" stroke="#8a8a8a" stroke-width="0.5" fill="#cfcfcf"/>
<text class="d" x="637" y="184.9" font-size="4.8" text-anchor="start" fill="#868686">6-Φ6.4*9.4</text>
<path d="M648 186.5 L661.6 186.5 L665.5 195.6" stroke="#a0a0a0" stroke-width="0.7" fill="none"/>
<text class="d" x="569.2" y="208" font-size="4.8" text-anchor="start" fill="#868686">6-M10</text>
<path d="M569 209.6 L583.7 209.6 L587.8 220.5" stroke="#a0a0a0" stroke-width="0.7" fill="none"/>
<text class="d" x="570.5" y="239" font-size="4.8" text-anchor="start" fill="#868686">2-M8</text>
<path d="M570 240.6 L583 240.6 L589 250" stroke="#a0a0a0" stroke-width="0.7" fill="none"/>
<line x1="672.5" y1="199.2" x2="712.5" y2="199.2" stroke="#b4b4b4" stroke-width="0.7"/>
<line x1="672.5" y1="260" x2="712.5" y2="260" stroke="#b4b4b4" stroke-width="0.7"/>
<line x1="710.8" y1="199.2" x2="710.8" y2="260" stroke="#b4b4b4" stroke-width="0.7"/>
<text class="d" x="709.5" y="229.5" font-size="5.2" text-anchor="middle" fill="#868686" transform="rotate(-90 709.5 229.5)">190</text>
<line x1="678" y1="202" x2="706" y2="202" stroke="#b4b4b4" stroke-width="0.7"/>
<line x1="678" y1="258" x2="706" y2="258" stroke="#b4b4b4" stroke-width="0.7"/>
<line x1="704" y1="202" x2="704" y2="258" stroke="#b4b4b4" stroke-width="0.7"/>
<text class="d" x="702.4" y="229.5" font-size="5.2" text-anchor="middle" fill="#868686" transform="rotate(-90 702.4 229.5)">175</text>
<line x1="680" y1="206.2" x2="699.5" y2="206.2" stroke="#b4b4b4" stroke-width="0.7"/>
<line x1="680" y1="255" x2="699.5" y2="255" stroke="#b4b4b4" stroke-width="0.7"/>
<line x1="697.5" y1="206.2" x2="697.5" y2="255" stroke="#b4b4b4" stroke-width="0.7"/>
<text class="d" x="695.9" y="229.5" font-size="5.2" text-anchor="middle" fill="#868686" transform="rotate(-90 695.9 229.5)">160</text>
<line x1="728.1" y1="198.5" x2="728.1" y2="252.3" stroke="#777" stroke-width="1.2"/>
<rect x="728.5" y="204.9" width="24.5" height="42.7" stroke="#8f8f8f" stroke-width="1" fill="none"/>
<rect x="733.4" y="213.2" width="15.4" height="24.9" stroke="#888" stroke-width="0.8" fill="none"/>
<circle cx="744" cy="219.1" r="2" fill="#7a7a7a" stroke="#484848" stroke-width="0.9"/>
<circle cx="738.1" cy="226.2" r="2" fill="#7a7a7a" stroke="#484848" stroke-width="0.9"/>
<circle cx="744" cy="234.1" r="2" fill="#7a7a7a" stroke="#484848" stroke-width="0.9"/>
<circle cx="738.1" cy="242.1" r="2" fill="#7a7a7a" stroke="#484848" stroke-width="0.9"/>
<line x1="728.1" y1="253" x2="728.1" y2="262" stroke="#b4b4b4" stroke-width="0.7"/>
<line x1="753" y1="248" x2="753" y2="262" stroke="#b4b4b4" stroke-width="0.7"/>
<line x1="728.1" y1="260.2" x2="753" y2="260.2" stroke="#b4b4b4" stroke-width="0.7"/>
<text class="d" x="740.55" y="259.3" font-size="5.2" text-anchor="middle" fill="#868686">90</text>
<line x1="609.5" y1="263" x2="609.5" y2="270" stroke="#b4b4b4" stroke-width="0.7"/>
<line x1="665" y1="263" x2="665" y2="270" stroke="#b4b4b4" stroke-width="0.7"/>
<line x1="609.5" y1="267" x2="665" y2="267" stroke="#b4b4b4" stroke-width="0.7"/>
<text class="d" x="637.4" y="266.7" font-size="5.2" text-anchor="middle" fill="#868686">180</text>
<line x1="597.4" y1="256" x2="597.4" y2="277.3" stroke="#b4b4b4" stroke-width="0.7"/>
<line x1="677.4" y1="256" x2="677.4" y2="277.3" stroke="#b4b4b4" stroke-width="0.7"/>
<line x1="600.8" y1="275.5" x2="674.4" y2="275.5" stroke="#b4b4b4" stroke-width="0.7"/>
<text class="d" x="638" y="274.3" font-size="5.2" text-anchor="middle" fill="#868686">240</text>
<line x1="589.8" y1="250" x2="589.8" y2="287" stroke="#b4b4b4" stroke-width="0.7"/>
<line x1="687.5" y1="256" x2="687.5" y2="287" stroke="#b4b4b4" stroke-width="0.7"/>
<line x1="591.2" y1="283.5" x2="687.5" y2="283.5" stroke="#b4b4b4" stroke-width="0.7"/>
<text class="d" x="637.7" y="281.9" font-size="5.2" text-anchor="middle" fill="#868686">325</text>
<path d="M34.1 344 L98.3 344 L103.1 348.7 L29.3 348.7 Z" stroke="#8f8f8f" stroke-width="1" fill="none"/>
<rect x="29.3" y="348.7" width="73.8" height="48.3" stroke="#8f8f8f" stroke-width="1" fill="none"/>
<path d="M29.3 397 L103.1 397 L98.3 401.7 L34.1 401.7 Z" stroke="#8f8f8f" stroke-width="1" fill="none"/>
<path d="M40.7 343.9 L42 346.2 L43.3 343.9" stroke="#888" stroke-width="0.6" fill="none"/>
<path d="M40.7 403 L42 400.7 L43.3 403" stroke="#888" stroke-width="0.6" fill="none"/>
<path d="M64.7 343.9 L66 346.2 L67.3 343.9" stroke="#888" stroke-width="0.6" fill="none"/>
<path d="M64.7 403 L66 400.7 L67.3 403" stroke="#888" stroke-width="0.6" fill="none"/>
<path d="M88 343.9 L89.3 346.2 L90.6 343.9" stroke="#888" stroke-width="0.6" fill="none"/>
<path d="M88 403 L89.3 400.7 L90.6 403" stroke="#888" stroke-width="0.6" fill="none"/>
<line x1="66.3" y1="342" x2="66.3" y2="404" stroke="#b8b8b8" stroke-width="0.6" stroke-dasharray="3 1.5"/>
<line x1="25" y1="373.8" x2="108" y2="373.8" stroke="#b8b8b8" stroke-width="0.6" stroke-dasharray="3 1.5"/>
<rect x="15.4" y="359.4" width="13.9" height="2" fill="#8e8e8e"/>
<rect x="103.1" y="359.4" width="13.2" height="2" fill="#8e8e8e"/>
<rect x="15.4" y="372.7" width="13.9" height="2" fill="#8e8e8e"/>
<rect x="103.1" y="372.7" width="13.2" height="2" fill="#8e8e8e"/>
<rect x="15.4" y="385.7" width="13.9" height="2" fill="#8e8e8e"/>
<rect x="103.1" y="385.7" width="13.2" height="2" fill="#8e8e8e"/>
<circle cx="26.3" cy="395.5" r="2.1" fill="#555" stroke="#333" stroke-width="0.5"/>
<rect x="23.4" y="394.9" width="5.8" height="1.2" fill="#444"/>
<circle cx="105.5" cy="395.5" r="2.1" fill="#555" stroke="#333" stroke-width="0.5"/>
<rect x="102.6" y="394.9" width="5.8" height="1.2" fill="#444"/>
<text class="d" x="36.2" y="355.2" font-size="4.8" text-anchor="start" fill="#868686">6-Φ6.4*9.4</text>
<path d="M50 356.8 L62.9 356.8 L66 343.9" stroke="#a0a0a0" stroke-width="0.7" fill="none"/>
<line x1="98.3" y1="343.7" x2="142.7" y2="343.7" stroke="#b4b4b4" stroke-width="0.7"/>
<line x1="102" y1="403.1" x2="142.7" y2="403.1" stroke="#b4b4b4" stroke-width="0.7"/>
<line x1="138.4" y1="344.4" x2="138.4" y2="400.6" stroke="#b4b4b4" stroke-width="0.7"/>
<text class="d" x="132.3" y="374.4" font-size="5.4" text-anchor="middle" fill="#868686" transform="rotate(90 132.3 374.4)">210</text>
<line x1="102" y1="345.1" x2="135.5" y2="345.1" stroke="#b4b4b4" stroke-width="0.7"/>
<line x1="102" y1="400.6" x2="135.5" y2="400.6" stroke="#b4b4b4" stroke-width="0.7"/>
<line x1="129.2" y1="348" x2="129.2" y2="397.5" stroke="#b4b4b4" stroke-width="0.7"/>
<text class="d" x="124" y="376.6" font-size="5.6" text-anchor="middle" fill="#868686" transform="rotate(90 124 376.6)">190±0.2</text>
<line x1="106.4" y1="354.4" x2="123.5" y2="354.4" stroke="#b4b4b4" stroke-width="0.7"/>
<line x1="102.8" y1="397.5" x2="123.5" y2="397.5" stroke="#b4b4b4" stroke-width="0.7"/>
<line x1="121.3" y1="356.2" x2="121.3" y2="396" stroke="#b4b4b4" stroke-width="0.7"/>
<text class="d" x="117" y="374.5" font-size="5.4" text-anchor="middle" fill="#868686" transform="rotate(90 117 374.5)">170</text>
<rect x="41.3" y="402.9" width="48" height="6.5" stroke="#a8a8a8" stroke-width="0.6" fill="none"/>
<line x1="66" y1="402.9" x2="66" y2="409.4" stroke="#a8a8a8" stroke-width="0.6"/>
<text class="d" x="54" y="408.5" font-size="5.3" text-anchor="middle" fill="#868686">90±0.2</text>
<text class="d" x="77.7" y="408.5" font-size="5.3" text-anchor="middle" fill="#868686">90±0.2</text>
<line x1="34.4" y1="401.5" x2="34.4" y2="418" stroke="#b4b4b4" stroke-width="0.7"/>
<line x1="96.9" y1="401.5" x2="96.9" y2="418" stroke="#b4b4b4" stroke-width="0.7"/>
<line x1="36.6" y1="415.4" x2="94.8" y2="415.4" stroke="#b4b4b4" stroke-width="0.7"/>
<text class="d" x="65.7" y="414.6" font-size="5.3" text-anchor="middle" fill="#868686">240</text>
<line x1="102" y1="397" x2="102" y2="423.7" stroke="#b4b4b4" stroke-width="0.7"/>
<line x1="30.1" y1="423" x2="102" y2="423" stroke="#b4b4b4" stroke-width="0.7"/>
<text class="d" x="66.05" y="422.2" font-size="5.3" text-anchor="middle" fill="#868686">280</text>
<line x1="104.1" y1="397" x2="104.1" y2="431.6" stroke="#b4b4b4" stroke-width="0.7"/>
<line x1="30.1" y1="430.9" x2="102" y2="430.9" stroke="#b4b4b4" stroke-width="0.7"/>
<text class="d" x="66.05" y="430" font-size="5.3" text-anchor="middle" fill="#868686">292</text>
<line x1="27.2" y1="398" x2="27.2" y2="433.8" stroke="#a8a8a8" stroke-width="0.9"/>
<line x1="28.7" y1="402" x2="28.7" y2="433.8" stroke="#b4b4b4" stroke-width="0.7"/>
<line x1="16.5" y1="398" x2="16.5" y2="442.4" stroke="#b4b4b4" stroke-width="0.7"/>
<line x1="115.6" y1="398.6" x2="115.6" y2="440.3" stroke="#b4b4b4" stroke-width="0.7"/>
<line x1="20" y1="438.8" x2="114.2" y2="438.8" stroke="#b4b4b4" stroke-width="0.7"/>
<text class="d" x="67.1" y="437.6" font-size="5.3" text-anchor="middle" fill="#868686">380</text>
<line x1="99" y1="399.3" x2="125" y2="399.3" stroke="#b4b4b4" stroke-width="0.7"/>
<rect x="154.7" y="349.2" width="23" height="48.7" stroke="#8f8f8f" stroke-width="1" fill="none"/>
<rect x="157.5" y="355.1" width="18.5" height="36.9" stroke="#707070" stroke-width="0.9" fill="none"/>
<line x1="157.5" y1="373.6" x2="176" y2="373.6" stroke="#b0b0b0" stroke-width="0.6"/>
<line x1="177.7" y1="344.2" x2="177.7" y2="403" stroke="#6a6a6a" stroke-width="1.3"/>
<line x1="166.8" y1="349.2" x2="166.8" y2="397.9" stroke="#c0c0c0" stroke-width="0.5" stroke-dasharray="2.5 1.2"/>
<rect x="157.4" y="355" width="1.8" height="1.8" fill="#555"/>
<rect x="157.4" y="372.7" width="1.8" height="1.8" fill="#555"/>
<rect x="157.4" y="390.3" width="1.8" height="1.8" fill="#555"/>
<rect x="174.3" y="355" width="1.8" height="1.8" fill="#555"/>
<rect x="174.3" y="372.7" width="1.8" height="1.8" fill="#555"/>
<rect x="174.3" y="390.3" width="1.8" height="1.8" fill="#555"/>
<rect x="162.6" y="360.5" width="8.4" height="1.6" stroke="#6a6a6a" stroke-width="0.5" fill="#b8b8b8" rx="0.8"/>
<rect x="162.6" y="372.8" width="8.4" height="1.6" stroke="#6a6a6a" stroke-width="0.5" fill="#b8b8b8" rx="0.8"/>
<rect x="162.6" y="385.3" width="8.4" height="1.6" stroke="#6a6a6a" stroke-width="0.5" fill="#b8b8b8" rx="0.8"/>
<rect x="179.9" y="359.3" width="2" height="27.7" stroke="#aaa" stroke-width="0.6" fill="none"/>
<text class="d" x="184" y="368.5" font-size="3.2" text-anchor="middle" fill="#868686" transform="rotate(90 184 368.5)">+1.7m</text>
<text class="d" x="184" y="380.5" font-size="3.2" text-anchor="middle" fill="#868686" transform="rotate(90 184 380.5)">+1.7m</text>
<line x1="181" y1="354.3" x2="191.5" y2="354.3" stroke="#b4b4b4" stroke-width="0.7"/>
<line x1="181" y1="391.2" x2="191.5" y2="391.2" stroke="#b4b4b4" stroke-width="0.7"/>
<line x1="190.3" y1="354.3" x2="190.3" y2="391.2" stroke="#b4b4b4" stroke-width="0.7"/>
<text class="d" x="192.5" y="375.2" font-size="4.0" text-anchor="middle" fill="#868686" transform="rotate(90 192.5 375.2)">115</text>
<circle cx="157" cy="394.5" r="2.1" fill="#9a9a9a" stroke="#3a3a3a" stroke-width="0.9"/>
<text class="d" x="166.5" y="403.4" font-size="4.8" text-anchor="middle" fill="#868686">2-M8</text>
<path d="M157.8 396.5 L160.3 404.6 L172.5 404.6" stroke="#999" stroke-width="0.6" fill="none"/>
<line x1="157.5" y1="398" x2="157.5" y2="410" stroke="#b4b4b4" stroke-width="0.7"/>
<line x1="176" y1="393" x2="176" y2="410" stroke="#b4b4b4" stroke-width="0.7"/>
<line x1="157.5" y1="408" x2="176" y2="408" stroke="#b4b4b4" stroke-width="0.7"/>
<text class="d" x="166.75" y="413" font-size="5.2" text-anchor="middle" fill="#868686">70</text>
<line x1="154.7" y1="398" x2="154.7" y2="416.5" stroke="#b4b4b4" stroke-width="0.7"/>
<line x1="177.7" y1="403" x2="177.7" y2="416.5" stroke="#b4b4b4" stroke-width="0.7"/>
<line x1="154.7" y1="414.7" x2="177.7" y2="414.7" stroke="#b4b4b4" stroke-width="0.7"/>
<text class="d" x="166.2" y="420" font-size="5.2" text-anchor="middle" fill="#868686">90</text>
<path d="M308.1 351.3 L350.6 351.3 L356.1 357.8 L302.3 357.8 Z" stroke="#8f8f8f" stroke-width="1" fill="none"/>
<rect x="302.3" y="357.8" width="53.8" height="54.3" stroke="#8f8f8f" stroke-width="1" fill="none"/>
<path d="M302.3 412.1 L356.1 412.1 L351 419.8 L309.2 419.8 Z" stroke="#8f8f8f" stroke-width="1" fill="none"/>
<line x1="302.3" y1="366" x2="302.3" y2="410" stroke="#777" stroke-width="1.5"/>
<line x1="356.1" y1="366" x2="356.1" y2="410" stroke="#777" stroke-width="1.5"/>
<path d="M313.6 351.3 L314.3 354.4 L315.5 354.4 L316.2 351.3" stroke="#888" stroke-width="0.6" fill="none"/>
<path d="M313.6 419.8 L314.3 415.9 L315.5 415.9 L316.2 419.8" stroke="#888" stroke-width="0.6" fill="none"/>
<path d="M328 351.3 L328.7 354.4 L329.9 354.4 L330.6 351.3" stroke="#888" stroke-width="0.6" fill="none"/>
<path d="M328 419.8 L328.7 415.9 L329.9 415.9 L330.6 419.8" stroke="#888" stroke-width="0.6" fill="none"/>
<path d="M342.3 351.3 L343 354.4 L344.2 354.4 L344.9 351.3" stroke="#888" stroke-width="0.6" fill="none"/>
<path d="M342.3 419.8 L343 415.9 L344.2 415.9 L344.9 419.8" stroke="#888" stroke-width="0.6" fill="none"/>
<rect x="293.1" y="371.9" width="9.2" height="2.2" fill="#868686"/>
<rect x="356.1" y="371.9" width="9.6" height="2.2" fill="#868686"/>
<rect x="293.1" y="384" width="9.2" height="2.2" fill="#868686"/>
<rect x="356.1" y="384" width="9.6" height="2.2" fill="#868686"/>
<rect x="293.1" y="395.5" width="9.2" height="2.2" fill="#868686"/>
<rect x="356.1" y="395.5" width="9.6" height="2.2" fill="#868686"/>
<circle cx="298.3" cy="407.6" r="2.1" fill="#555" stroke="#333" stroke-width="0.5"/>
<rect x="295.4" y="407" width="5.8" height="1.2" fill="#444"/>
<circle cx="360" cy="407.6" r="2.1" fill="#555" stroke="#333" stroke-width="0.5"/>
<rect x="357.1" y="407" width="5.8" height="1.2" fill="#444"/>
<text class="d" x="316.6" y="337.6" font-size="4.6" text-anchor="start" fill="#868686">6.4</text>
<line x1="313.6" y1="338.3" x2="326.7" y2="338.3" stroke="#a0a0a0" stroke-width="0.6"/>
<line x1="313.5" y1="336.1" x2="313.5" y2="351.6" stroke="#a0a0a0" stroke-width="0.6"/>
<line x1="315.4" y1="336.1" x2="315.4" y2="351.6" stroke="#a0a0a0" stroke-width="0.6"/>
<line x1="357" y1="349.9" x2="382.1" y2="349.9" stroke="#b4b4b4" stroke-width="0.7"/>
<line x1="357.4" y1="419.4" x2="382.5" y2="419.4" stroke="#b4b4b4" stroke-width="0.7"/>
<line x1="381.4" y1="349.9" x2="381.4" y2="419.4" stroke="#b4b4b4" stroke-width="0.7"/>
<text class="d" x="382.2" y="384.9" font-size="5.2" text-anchor="middle" fill="#868686" transform="rotate(90 382.2 384.9)">260</text>
<line x1="357" y1="354.4" x2="374.5" y2="354.4" stroke="#b4b4b4" stroke-width="0.7"/>
<line x1="357.4" y1="415.3" x2="374.4" y2="415.3" stroke="#b4b4b4" stroke-width="0.7"/>
<line x1="374" y1="354.4" x2="374" y2="415.3" stroke="#b4b4b4" stroke-width="0.7"/>
<text class="d" x="375" y="384.9" font-size="5.2" text-anchor="middle" fill="#868686" transform="rotate(90 375 384.9)">245</text>
<line x1="358.2" y1="358.1" x2="367.7" y2="358.1" stroke="#b4b4b4" stroke-width="0.7"/>
<line x1="356" y1="412.4" x2="367.7" y2="412.4" stroke="#b4b4b4" stroke-width="0.7"/>
<line x1="366.6" y1="358.1" x2="366.6" y2="412.4" stroke="#b4b4b4" stroke-width="0.7"/>
<text class="d" x="367.8" y="384.9" font-size="5.2" text-anchor="middle" fill="#868686" transform="rotate(90 367.8 384.9)">230</text>
<line x1="314.4" y1="419.8" x2="314.4" y2="426.8" stroke="#b4b4b4" stroke-width="0.7"/>
<line x1="342.6" y1="419.8" x2="342.6" y2="426.8" stroke="#b4b4b4" stroke-width="0.7"/>
<line x1="314.4" y1="423.2" x2="342.6" y2="423.2" stroke="#b4b4b4" stroke-width="0.7"/>
<text class="d" x="328.5" y="431" font-size="5.2" text-anchor="middle" fill="#868686">165</text>
<line x1="302.8" y1="419" x2="302.8" y2="432.2" stroke="#b4b4b4" stroke-width="0.7"/>
<line x1="355.5" y1="419" x2="355.5" y2="432.2" stroke="#b4b4b4" stroke-width="0.7"/>
<line x1="302.8" y1="432.2" x2="355.5" y2="432.2" stroke="#b4b4b4" stroke-width="0.7"/>
<text class="d" x="329.15" y="437.6" font-size="5.2" text-anchor="middle" fill="#868686">320</text>
<rect x="387.4" y="357.1" width="22.3" height="55.5" stroke="#8f8f8f" stroke-width="1" fill="none"/>
<line x1="409.7" y1="351.2" x2="409.7" y2="418.8" stroke="#6e6e6e" stroke-width="1.3"/>
<rect x="391.9" y="367.2" width="14.8" height="36.5" stroke="#888" stroke-width="0.8" fill="none" rx="2.4"/>
<rect x="393.2" y="368.5" width="12.2" height="33.9" stroke="#bbb" stroke-width="0.5" fill="none" rx="2"/>
<rect x="396.3" y="371.9" width="5.4" height="2.4" stroke="#666" stroke-width="0.7" fill="#b0b0b0" rx="1.2"/>
<rect x="396.3" y="383.3" width="5.4" height="2.4" stroke="#666" stroke-width="0.7" fill="#b0b0b0" rx="1.2"/>
<rect x="396.3" y="395.4" width="5.4" height="2.4" stroke="#666" stroke-width="0.7" fill="#b0b0b0" rx="1.2"/>
<ellipse cx="402.6" cy="407.3" rx="1.5" ry="2.1" fill="#4a4a4a" stroke="#333" stroke-width="0.5"/>
<line x1="387.4" y1="413" x2="387.4" y2="425" stroke="#b4b4b4" stroke-width="0.7"/>
<line x1="409.7" y1="419" x2="409.7" y2="425" stroke="#b4b4b4" stroke-width="0.7"/>
<line x1="387.4" y1="423.3" x2="409.7" y2="423.3" stroke="#b4b4b4" stroke-width="0.7"/>
<line x1="387.4" y1="422.1" x2="387.4" y2="424.5" stroke="#b4b4b4" stroke-width="0.7"/>
<line x1="409.7" y1="422.1" x2="409.7" y2="424.5" stroke="#b4b4b4" stroke-width="0.7"/>
<text class="d" x="398.55" y="430" font-size="5.2" text-anchor="middle" fill="#868686">128</text>
<path d="M426.4 355 Q419.5 387 426.4 418.6" stroke="#c4c4c4" stroke-width="0.6" fill="none"/>
<line x1="427.4" y1="355" x2="427.4" y2="418.6" stroke="#6e6e6e" stroke-width="1.2"/>
<rect x="428" y="368.1" width="2.2" height="38.8" fill="#8a8a8a"/>
<rect x="430.4" y="379.9" width="27.2" height="15.2" stroke="#8f8f8f" stroke-width="0.9" fill="none"/>
<line x1="430.4" y1="387.5" x2="457.6" y2="387.5" stroke="#cccccc" stroke-width="0.5"/>
<ellipse cx="448.4" cy="387.1" rx="1.8" ry="2.4" fill="#bbb" stroke="#555" stroke-width="0.7"/>
<text class="d" x="455.3" y="369.7" font-size="4.6" text-anchor="start" fill="#868686">Φ8.2</text>
<path d="M467.7 371.9 L453.9 371.9 L449.7 384" stroke="#a0a0a0" stroke-width="0.6" fill="none"/>
<line x1="460.5" y1="379.9" x2="464.6" y2="379.9" stroke="#b4b4b4" stroke-width="0.7"/>
<line x1="460.5" y1="395.1" x2="464.6" y2="395.1" stroke="#b4b4b4" stroke-width="0.7"/>
<line x1="462.6" y1="379.9" x2="462.6" y2="395.1" stroke="#b4b4b4" stroke-width="0.7"/>
<text class="d" x="463.4" y="387.5" font-size="4.4" text-anchor="middle" fill="#868686" transform="rotate(90 463.4 387.5)">25</text>
<rect x="448.8" y="396.5" width="8.8" height="6.9" stroke="#a8a8a8" stroke-width="0.5" fill="none"/>
<text class="d" x="453.2" y="401.6" font-size="4.4" text-anchor="middle" fill="#868686">22</text>
<line x1="448.8" y1="403.4" x2="448.8" y2="409" stroke="#b4b4b4" stroke-width="0.7"/>
<text class="d" x="444" y="416.4" font-size="4.8" text-anchor="middle" fill="#868686">57.5±2</text>
<line x1="429.7" y1="417.9" x2="457.6" y2="417.9" stroke="#b4b4b4" stroke-width="0.7"/>
<line x1="457.6" y1="395.1" x2="457.6" y2="418.9" stroke="#b4b4b4" stroke-width="0.7"/>
<path d="M597.9 346.5 L654.3 346.5 L658.1 354.3 L593.4 354.3 Z" stroke="#8f8f8f" stroke-width="1" fill="none"/>
<rect x="593.4" y="354.3" width="64.7" height="60.1" stroke="#8f8f8f" stroke-width="1" fill="none"/>
<path d="M593.4 414.4 Q595 420.5 598.8 422.3 L654.4 422.3 Q657 420.5 658.1 414.4" stroke="#8f8f8f" stroke-width="1" fill="none"/>
<line x1="593.4" y1="362" x2="593.4" y2="412" stroke="#777" stroke-width="1.5"/>
<line x1="658.1" y1="362" x2="658.1" y2="412" stroke="#777" stroke-width="1.5"/>
<path d="M600 346.5 L600.2 350 Q601.3 352 602.4 350 L602.6 346.5" stroke="#888" stroke-width="0.6" fill="none"/>
<path d="M624.1 346.5 L624.3 350 Q625.4 352 626.5 350 L626.7 346.5" stroke="#888" stroke-width="0.6" fill="none"/>
<path d="M646.8 346.5 L647 350 Q648.1 352 649.2 350 L649.4 346.5" stroke="#888" stroke-width="0.6" fill="none"/>
<path d="M600.2 422.3 L600.4 418.8 Q601.5 416.6 602.6 418.8 L602.8 422.3" stroke="#888" stroke-width="0.6" fill="none"/>
<path d="M624.3 422.3 L624.5 418.8 Q625.6 416.6 626.7 418.8 L626.9 422.3" stroke="#888" stroke-width="0.6" fill="none"/>
<path d="M646.5 422.3 L646.7 418.8 Q647.8 416.6 648.9 418.8 L649.1 422.3" stroke="#888" stroke-width="0.6" fill="none"/>
<rect x="584.9" y="370.1" width="8.5" height="2.2" fill="#868686"/>
<rect x="658.1" y="370.1" width="8.8" height="2.2" fill="#868686"/>
<rect x="584.9" y="382.4" width="8.5" height="2.2" fill="#868686"/>
<rect x="658.1" y="382.4" width="8.8" height="2.2" fill="#868686"/>
<rect x="584.9" y="395.6" width="8.5" height="2.2" fill="#868686"/>
<rect x="658.1" y="395.6" width="8.8" height="2.2" fill="#868686"/>
<circle cx="590.6" cy="408.7" r="2.1" fill="#555" stroke="#333" stroke-width="0.5"/>
<rect x="587.7" y="408.1" width="5.8" height="1.2" fill="#444"/>
<circle cx="661.6" cy="407.8" r="2.1" fill="#555" stroke="#333" stroke-width="0.5"/>
<rect x="658.7" y="407.2" width="5.8" height="1.2" fill="#444"/>
<text class="d" x="652.6" y="330.5" font-size="4.6" text-anchor="start" fill="#868686">6</text>
<line x1="647.4" y1="332.7" x2="660" y2="332.7" stroke="#a0a0a0" stroke-width="0.6"/>
<line x1="647.4" y1="332.7" x2="647.4" y2="351.6" stroke="#a0a0a0" stroke-width="0.6"/>
<line x1="648.8" y1="334" x2="648.8" y2="351.6" stroke="#a0a0a0" stroke-width="0.6"/>
<text class="d" x="570" y="420.6" font-size="4.8" text-anchor="start" fill="#868686">2-M12</text>
<path d="M569.6 422.4 L583.8 422.4 L588.5 410.5" stroke="#a0a0a0" stroke-width="0.6" fill="none"/>
<line x1="656.2" y1="345.3" x2="682.9" y2="345.3" stroke="#b4b4b4" stroke-width="0.7"/>
<line x1="656" y1="418.3" x2="683" y2="418.3" stroke="#b4b4b4" stroke-width="0.7"/>
<line x1="676.7" y1="345.3" x2="676.7" y2="418.3" stroke="#b4b4b4" stroke-width="0.7"/>
<text class="d" x="679.2" y="382.8" font-size="5.2" text-anchor="middle" fill="#868686" transform="rotate(90 679.2 382.8)">290</text>
<line x1="656" y1="348.9" x2="678.5" y2="348.9" stroke="#b4b4b4" stroke-width="0.7"/>
<line x1="658" y1="415.6" x2="674" y2="415.6" stroke="#b4b4b4" stroke-width="0.7"/>
<line x1="672.8" y1="348.9" x2="672.8" y2="415.6" stroke="#b4b4b4" stroke-width="0.7"/>
<text class="d" x="674.4" y="382.8" font-size="5.2" text-anchor="middle" fill="#868686" transform="rotate(90 674.4 382.8)">270</text>
<line x1="658" y1="354.2" x2="667.8" y2="354.2" stroke="#b4b4b4" stroke-width="0.7"/>
<line x1="658" y1="413" x2="668" y2="413" stroke="#b4b4b4" stroke-width="0.7"/>
<line x1="666.9" y1="354.2" x2="666.9" y2="413" stroke="#b4b4b4" stroke-width="0.7"/>
<text class="d" x="668.5" y="382.8" font-size="5.2" text-anchor="middle" fill="#868686" transform="rotate(90 668.5 382.8)">260</text>
<line x1="656" y1="421.9" x2="683.8" y2="421.9" stroke="#b4b4b4" stroke-width="0.7"/>
<line x1="601.5" y1="416.9" x2="601.5" y2="428.8" stroke="#b4b4b4" stroke-width="0.7"/>
<line x1="647.8" y1="416.9" x2="647.8" y2="428.8" stroke="#b4b4b4" stroke-width="0.7"/>
<line x1="601.5" y1="425.3" x2="647.8" y2="425.3" stroke="#b4b4b4" stroke-width="0.7"/>
<text class="d" x="624.65" y="431.5" font-size="5.2" text-anchor="middle" fill="#868686">245</text>
<line x1="593.5" y1="425.6" x2="593.5" y2="440" stroke="#b4b4b4" stroke-width="0.7"/>
<line x1="658.1" y1="425.6" x2="658.1" y2="440" stroke="#b4b4b4" stroke-width="0.7"/>
<line x1="593.5" y1="433.5" x2="658.1" y2="433.5" stroke="#b4b4b4" stroke-width="0.7"/>
<text class="d" x="625.8" y="440" font-size="5.2" text-anchor="middle" fill="#868686">400</text>
<rect x="687.3" y="353.8" width="19" height="59.7" stroke="#8f8f8f" stroke-width="1" fill="none"/>
<line x1="707.1" y1="345.9" x2="707.1" y2="424" stroke="#6e6e6e" stroke-width="1.3"/>
<rect x="690.9" y="363.7" width="12.3" height="41.5" stroke="#888" stroke-width="0.8" fill="none" rx="2.2"/>
<rect x="692.1" y="364.9" width="9.9" height="39.1" stroke="#bbb" stroke-width="0.5" fill="none" rx="1.8"/>
<rect x="695.3" y="369.4" width="3.1" height="2.4" stroke="#666" stroke-width="0.7" fill="#b0b0b0" rx="0.6"/>
<rect x="695.3" y="382.3" width="3.1" height="2.4" stroke="#666" stroke-width="0.7" fill="#b0b0b0" rx="0.6"/>
<rect x="695.3" y="395.1" width="3.1" height="2.4" stroke="#666" stroke-width="0.7" fill="#b0b0b0" rx="0.6"/>
<ellipse cx="700.4" cy="409.2" rx="1.6" ry="2.3" fill="#4a4a4a" stroke="#333" stroke-width="0.5"/>
<line x1="687.3" y1="414" x2="687.3" y2="427" stroke="#b4b4b4" stroke-width="0.7"/>
<line x1="707.1" y1="424" x2="707.1" y2="427" stroke="#b4b4b4" stroke-width="0.7"/>
<line x1="687.3" y1="425.4" x2="707.1" y2="425.4" stroke="#b4b4b4" stroke-width="0.7"/>
<line x1="687.3" y1="424.2" x2="687.3" y2="426.6" stroke="#b4b4b4" stroke-width="0.7"/>
<line x1="707.1" y1="424.2" x2="707.1" y2="426.6" stroke="#b4b4b4" stroke-width="0.7"/>
<text class="d" x="697.2" y="432.4" font-size="5.2" text-anchor="middle" fill="#868686">150</text>
<path d="M720 350 Q714.5 385 720 421" stroke="#c0c0c0" stroke-width="0.6" fill="none"/>
<line x1="720.8" y1="349.9" x2="720.8" y2="421" stroke="#777" stroke-width="1.3"/>
<rect x="721.3" y="364.7" width="2" height="43.5" fill="#6c6c6c"/>
<rect x="723.3" y="377.2" width="25.1" height="19.1" stroke="#8f8f8f" stroke-width="0.9" fill="none"/>
<line x1="723.3" y1="386.4" x2="748.4" y2="386.4" stroke="#c8c8c8" stroke-width="0.5"/>
<rect x="747.4" y="381.9" width="6" height="9.9" stroke="#a0a0a0" stroke-width="0.5" fill="none"/>
<text class="d" x="749.2" y="386.8" font-size="3.8" text-anchor="middle" fill="#868686" transform="rotate(90 749.2 386.8)">20</text>
<line x1="748.4" y1="377.2" x2="758" y2="377.2" stroke="#b4b4b4" stroke-width="0.7"/>
<line x1="748.4" y1="396.3" x2="758" y2="396.3" stroke="#b4b4b4" stroke-width="0.7"/>
<line x1="756.3" y1="377.2" x2="756.3" y2="396.3" stroke="#b4b4b4" stroke-width="0.7"/>
<text class="d" x="757.6" y="386.75" font-size="4.8" text-anchor="middle" fill="#868686" transform="rotate(90 757.6 386.75)">40</text>
<ellipse cx="737.2" cy="382.5" rx="1.4" ry="2.3" fill="#6a6a6a" stroke="#555" stroke-width="0.5"/>
<ellipse cx="742.5" cy="391.4" rx="1.4" ry="2.3" fill="#6a6a6a" stroke="#555" stroke-width="0.5"/>
<text class="d" x="739.1" y="365.6" font-size="5.0" text-anchor="start" fill="#868686">2-φ12.5</text>
<path d="M757 368.1 L741.5 368.1 L737.5 380" stroke="#a0a0a0" stroke-width="0.5" fill="none"/>
<rect x="739.1" y="398.9" width="8.3" height="6.3" stroke="#a8a8a8" stroke-width="0.5" fill="none"/>
<line x1="743.2" y1="398.9" x2="743.2" y2="405.2" stroke="#a8a8a8" stroke-width="0.5"/>
<line x1="739.1" y1="405.2" x2="739.1" y2="410" stroke="#b4b4b4" stroke-width="0.7"/>
<line x1="747.4" y1="405.2" x2="747.4" y2="410" stroke="#b4b4b4" stroke-width="0.7"/>
<text class="d" x="743.2" y="403.6" font-size="3.8" text-anchor="middle" fill="#868686">4.1</text>
<text class="d" x="735.3" y="416.3" font-size="5.0" text-anchor="middle" fill="#868686">100</text>
<line x1="723.3" y1="417.7" x2="748.4" y2="417.7" stroke="#b4b4b4" stroke-width="0.7"/>
<line x1="748.4" y1="396.3" x2="748.4" y2="420" stroke="#b4b4b4" stroke-width="0.7"/>
<rect x="30.5" y="133.75" width="162" height="1.3" fill="#8c8c8c"/>
<rect x="302" y="133.75" width="161.8" height="1.3" fill="#8c8c8c"/>
<rect x="571.3" y="133.55" width="184.7" height="1.3" fill="#8c8c8c"/>
<rect x="28.8" y="294.35" width="184.2" height="1.3" fill="#8c8c8c"/>
<rect x="296" y="294.35" width="185" height="1.3" fill="#8c8c8c"/>
<rect x="571.3" y="294.35" width="184.7" height="1.3" fill="#8c8c8c"/>
<rect x="14.3" y="461.35" width="185" height="1.3" fill="#8c8c8c"/>
<rect x="289.3" y="461.35" width="185.2" height="1.3" fill="#8c8c8c"/>
<rect x="573.5" y="461.45" width="185.1" height="1.3" fill="#8c8c8c"/>
<line x1="62.1" y1="142.7" x2="71.8" y2="142.7" stroke="#9a9a9a" stroke-width="0.9"/>
<line x1="62.1" y1="142.7" x2="62.1" y2="153.9" stroke="#9a9a9a" stroke-width="1.0"/>
<line x1="71.8" y1="142.7" x2="71.8" y2="153.9" stroke="#9a9a9a" stroke-width="1.0"/>
<line x1="62.1" y1="153.3" x2="71.8" y2="153.3" stroke="#9a9a9a" stroke-width="0.9"/>
<path d="M65.9 143.8 L63.8 146.3 M64.9 145 L69.5 145 L66.7 147.5 M64.7 146.1 L66.7 147.5 L70.1 148.7 M65.7 149.3 L67.9 149.7 M64.7 150.9 L68.7 150.9" stroke="#8e8e8e" stroke-width="1.0" fill="none"/>
<text transform="translate(77.8 153) scale(0.93 1)" x="0" y="0" class="cap" fill="#8a8a8a">A</text>
<text transform="translate(102.3 153) scale(0.93 1)" x="0" y="0" class="cap" fill="#8a8a8a">Picture A</text>
<line x1="333.1" y1="142.7" x2="342.8" y2="142.7" stroke="#9a9a9a" stroke-width="0.9"/>
<line x1="333.1" y1="142.7" x2="333.1" y2="153.9" stroke="#9a9a9a" stroke-width="1.0"/>
<line x1="342.8" y1="142.7" x2="342.8" y2="153.9" stroke="#9a9a9a" stroke-width="1.0"/>
<line x1="333.1" y1="153.3" x2="342.8" y2="153.3" stroke="#9a9a9a" stroke-width="0.9"/>
<path d="M336.9 143.8 L334.8 146.3 M335.9 145 L340.5 145 L337.7 147.5 M335.7 146.1 L337.7 147.5 L341.1 148.7 M336.7 149.3 L338.9 149.7 M335.7 150.9 L339.7 150.9" stroke="#8e8e8e" stroke-width="1.0" fill="none"/>
<text transform="translate(348.8 153) scale(0.93 1)" x="0" y="0" class="cap" fill="#8a8a8a">B</text>
<text transform="translate(373.3 153) scale(0.93 1)" x="0" y="0" class="cap" fill="#8a8a8a">Picture B</text>
<line x1="621.6" y1="142.5" x2="631.3" y2="142.5" stroke="#9a9a9a" stroke-width="0.9"/>
<line x1="621.6" y1="142.5" x2="621.6" y2="153.7" stroke="#9a9a9a" stroke-width="1.0"/>
<line x1="631.3" y1="142.5" x2="631.3" y2="153.7" stroke="#9a9a9a" stroke-width="1.0"/>
<line x1="621.6" y1="153.1" x2="631.3" y2="153.1" stroke="#9a9a9a" stroke-width="0.9"/>
<path d="M625.4 143.6 L623.3 146.1 M624.4 144.8 L629 144.8 L626.2 147.3 M624.2 145.9 L626.2 147.3 L629.6 148.5 M625.2 149.1 L627.4 149.5 M624.2 150.7 L628.2 150.7" stroke="#8e8e8e" stroke-width="1.0" fill="none"/>
<text transform="translate(637.3 152.8) scale(0.93 1)" x="0" y="0" class="cap" fill="#8a8a8a">C</text>
<text transform="translate(661.8 152.8) scale(0.93 1)" x="0" y="0" class="cap" fill="#8a8a8a">Picture C</text>
<line x1="79" y1="303" x2="88.7" y2="303" stroke="#9a9a9a" stroke-width="0.9"/>
<line x1="79" y1="303" x2="79" y2="314.2" stroke="#9a9a9a" stroke-width="1.0"/>
<line x1="88.7" y1="303" x2="88.7" y2="314.2" stroke="#9a9a9a" stroke-width="1.0"/>
<line x1="79" y1="313.6" x2="88.7" y2="313.6" stroke="#9a9a9a" stroke-width="0.9"/>
<path d="M82.8 304.1 L80.7 306.6 M81.8 305.3 L86.4 305.3 L83.6 307.8 M81.6 306.4 L83.6 307.8 L87 309 M82.6 309.6 L84.8 310 M81.6 311.2 L85.6 311.2" stroke="#8e8e8e" stroke-width="1.0" fill="none"/>
<text transform="translate(94.7 313.3) scale(0.93 1)" x="0" y="0" class="cap" fill="#8a8a8a">D</text>
<text transform="translate(119.2 313.3) scale(0.93 1)" x="0" y="0" class="cap" fill="#8a8a8a">Picture D</text>
<line x1="346.6" y1="303.1" x2="356.3" y2="303.1" stroke="#9a9a9a" stroke-width="0.9"/>
<line x1="346.6" y1="303.1" x2="346.6" y2="314.3" stroke="#9a9a9a" stroke-width="1.0"/>
<line x1="356.3" y1="303.1" x2="356.3" y2="314.3" stroke="#9a9a9a" stroke-width="1.0"/>
<line x1="346.6" y1="313.7" x2="356.3" y2="313.7" stroke="#9a9a9a" stroke-width="0.9"/>
<path d="M350.4 304.2 L348.3 306.7 M349.4 305.4 L354 305.4 L351.2 307.9 M349.2 306.5 L351.2 307.9 L354.6 309.1 M350.2 309.7 L352.4 310.1 M349.2 311.3 L353.2 311.3" stroke="#8e8e8e" stroke-width="1.0" fill="none"/>
<text transform="translate(362.3 313.4) scale(0.93 1)" x="0" y="0" class="cap" fill="#8a8a8a">E</text>
<text transform="translate(386.8 313.4) scale(0.93 1)" x="0" y="0" class="cap" fill="#8a8a8a">Picture E</text>
<line x1="622.1" y1="302.9" x2="631.8" y2="302.9" stroke="#9a9a9a" stroke-width="0.9"/>
<line x1="622.1" y1="302.9" x2="622.1" y2="314.1" stroke="#9a9a9a" stroke-width="1.0"/>
<line x1="631.8" y1="302.9" x2="631.8" y2="314.1" stroke="#9a9a9a" stroke-width="1.0"/>
<line x1="622.1" y1="313.5" x2="631.8" y2="313.5" stroke="#9a9a9a" stroke-width="0.9"/>
<path d="M625.9 304 L623.8 306.5 M624.9 305.2 L629.5 305.2 L626.7 307.7 M624.7 306.3 L626.7 307.7 L630.1 308.9 M625.7 309.5 L627.9 309.9 M624.7 311.1 L628.7 311.1" stroke="#8e8e8e" stroke-width="1.0" fill="none"/>
<text transform="translate(637.8 313.2) scale(0.93 1)" x="0" y="0" class="cap" fill="#8a8a8a">F</text>
<text transform="translate(662.3 313.2) scale(0.93 1)" x="0" y="0" class="cap" fill="#8a8a8a">Picture F</text>
<line x1="65.3" y1="470.2" x2="75" y2="470.2" stroke="#9a9a9a" stroke-width="0.9"/>
<line x1="65.3" y1="470.2" x2="65.3" y2="481.4" stroke="#9a9a9a" stroke-width="1.0"/>
<line x1="75" y1="470.2" x2="75" y2="481.4" stroke="#9a9a9a" stroke-width="1.0"/>
<line x1="65.3" y1="480.8" x2="75" y2="480.8" stroke="#9a9a9a" stroke-width="0.9"/>
<path d="M69.1 471.3 L67 473.8 M68.1 472.5 L72.7 472.5 L69.9 475 M67.9 473.6 L69.9 475 L73.3 476.2 M68.9 476.8 L71.1 477.2 M67.9 478.4 L71.9 478.4" stroke="#8e8e8e" stroke-width="1.0" fill="none"/>
<text transform="translate(81 480.5) scale(0.93 1)" x="0" y="0" class="cap" fill="#8a8a8a">G</text>
<text transform="translate(105.5 480.5) scale(0.93 1)" x="0" y="0" class="cap" fill="#8a8a8a">Picture G</text>
<line x1="339.8" y1="470.2" x2="349.5" y2="470.2" stroke="#9a9a9a" stroke-width="0.9"/>
<line x1="339.8" y1="470.2" x2="339.8" y2="481.4" stroke="#9a9a9a" stroke-width="1.0"/>
<line x1="349.5" y1="470.2" x2="349.5" y2="481.4" stroke="#9a9a9a" stroke-width="1.0"/>
<line x1="339.8" y1="480.8" x2="349.5" y2="480.8" stroke="#9a9a9a" stroke-width="0.9"/>
<path d="M343.6 471.3 L341.5 473.8 M342.6 472.5 L347.2 472.5 L344.4 475 M342.4 473.6 L344.4 475 L347.8 476.2 M343.4 476.8 L345.6 477.2 M342.4 478.4 L346.4 478.4" stroke="#8e8e8e" stroke-width="1.0" fill="none"/>
<text transform="translate(355.5 480.5) scale(0.93 1)" x="0" y="0" class="cap" fill="#8a8a8a">H</text>
<text transform="translate(380 480.5) scale(0.93 1)" x="0" y="0" class="cap" fill="#8a8a8a">Picture H</text>
<line x1="624.2" y1="470.7" x2="633.9" y2="470.7" stroke="#9a9a9a" stroke-width="0.9"/>
<line x1="624.2" y1="470.7" x2="624.2" y2="481.9" stroke="#9a9a9a" stroke-width="1.0"/>
<line x1="633.9" y1="470.7" x2="633.9" y2="481.9" stroke="#9a9a9a" stroke-width="1.0"/>
<line x1="624.2" y1="481.3" x2="633.9" y2="481.3" stroke="#9a9a9a" stroke-width="0.9"/>
<path d="M628 471.8 L625.9 474.3 M627 473 L631.6 473 L628.8 475.5 M626.8 474.1 L628.8 475.5 L632.2 476.7 M627.8 477.3 L630 477.7 M626.8 478.9 L630.8 478.9" stroke="#8e8e8e" stroke-width="1.0" fill="none"/>
<text transform="translate(639.5 481)" x="0" y="0" class="cap" style="font-family:'Liberation Serif',serif;font-size:15.6px" fill="#8a8a8a">I</text>
<text transform="translate(664.4 481) scale(0.93 1)" x="0" y="0" class="cap" fill="#8a8a8a">Picture I</text>
</svg>
</body></html>
